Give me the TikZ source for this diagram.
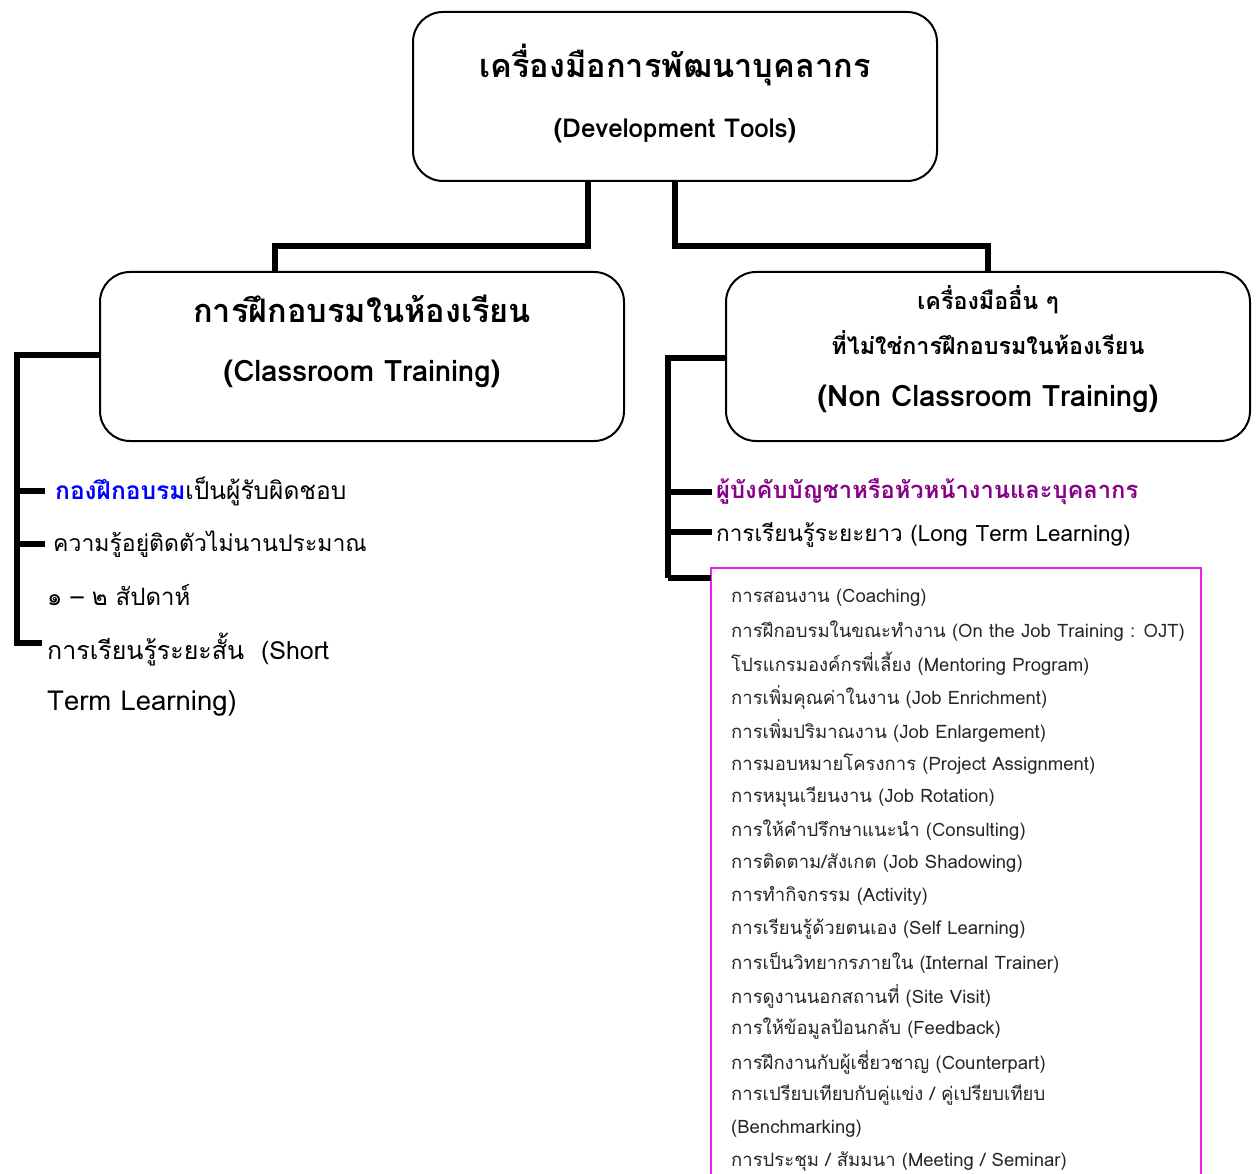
\documentclass[tikz,border=0pt]{standalone}
\usepackage{fontspec}
\setmainfont[Script=Thai]{Loma}
\newfontfamily\thaifont[Script=Thai]{Loma}
\definecolor{pblue}{RGB}{0,0,255}
\definecolor{ppurple}{RGB}{135,0,135}
\definecolor{pmag}{RGB}{240,30,240}
\newcommand{\fs}[1]{\fontsize{#1}{#1}\selectfont}
\begin{document}
\begin{tikzpicture}[x=1pt,y=-1pt,
  box/.style={draw, line width=2pt, rounded corners=30pt, minimum width=524pt, minimum height=169pt, inner sep=0pt},
  conn/.style={line width=6pt},
  ttl/.style={font=\fs{32.5}\bfseries, inner sep=0pt},
  sub/.style={font=\fs{26}\bfseries, inner sep=0pt},
  ltxt/.style={anchor=west, inner sep=0pt, font=\fs{25}},
  rtxt/.style={anchor=west, inner sep=0pt, font=\fs{22.5}},
  itm/.style={anchor=west, inner sep=0pt, font=\fs{18.5}, text=black!85}]
\useasboundingbox (0,0) rectangle (1259,1174);
\clip (0,0) rectangle (1259,1174);
% coordinates
\coordinate (a1) at (588,246);
\coordinate (a2) at (275,246);
\coordinate (b1) at (675,246);
\coordinate (b2) at (988,246);
\coordinate (l0) at (17,355);
\coordinate (lend) at (17,643);
\coordinate (r0) at (668,358);
\coordinate (rend) at (668,578);
% boxes
\node[box] (top) at (675,96.5) {};
\node[box] (left) at (362,356.5) {};
\node[box] (right) at (988,356.5) {};
% connectors
\draw[conn] (top.south -| a1) -- (a1) -- (a2) -- (left.north -| a2);
\draw[conn] (top.south -| b1) -- (b1) -- (b2) -- (right.north -| b2);
% left tree
\coordinate (lb1) at (45,491);
\coordinate (lb2) at (45,544);
\coordinate (lb3) at (42,643);
\draw[conn] (left.west |- l0) -- (l0) -- (l0 |- lb3) -- (lb3);
\draw[conn] (l0 |- lb1) -- (lb1);
\draw[conn] (l0 |- lb2) -- (lb2);
% right tree
\coordinate (rb1) at (712,492);
\coordinate (rb2) at (712,532);
\draw[conn] (right.west |- r0) -- (r0) -- (r0 |- rend) -- (rend);
\draw[conn] (r0 |- rb1) -- (rb1);
\draw[conn] (r0 |- rb2) -- (rb2);
% box texts
\node[ttl] (t1) at (675,65) {เครื่องมือการพัฒนาบุคลากร};
\node[sub] (t2) at (675,131) {(Development Tools)};
\node[ttl] (c1) at (362,309) {การฝึกอบรมในห้องเรียน};
\node[ttl, font=\fs{29.5}\bfseries] (c2) at (362,374) {(Classroom Training)};
\node[sub, font=\fs{23.3}\bfseries] (n1) at (988,300) {เครื่องมืออื่น ๆ};
\node[sub, font=\fs{23.3}\bfseries] (n2) at (988,343) {ที่ไม่ใช่การฝึกอบรมในห้องเรียน};
\node[ttl, font=\fs{29.5}\bfseries] (n3) at (988,399) {(Non Classroom Training)};
% left texts
\node[ltxt, font=\fs{24.5}] (lt1) at (55,491) {\textcolor{pblue}{\bfseries กองฝึกอบรม}เป็นผู้รับผิดชอบ};
\node[ltxt, font=\fs{23}] (lt2) at (53,544) {ความรู้อยู่ติดตัวไม่นานประมาณ};
\node[ltxt, font=\fs{24}] (lt3) at (47,595) {๑ – ๒ สัปดาห์};
\node[ltxt] (lt4) at (47,650) {การเรียนรู้ระยะสั้น\ \ (Short};
\node[ltxt, font=\fs{27.5}] (lt5) at (47,703) {Term Learning)};
% right texts
\node[rtxt, text=ppurple, font=\fs{23.7}\bfseries] (rt1) at (716,492) {ผู้บังคับบัญชาหรือหัวหน้างานและบุคลากร};
\node[rtxt] (rt2) at (716,535) {การเรียนรู้ระยะยาว (Long Term Learning)};
% magenta list box
\coordinate (mb) at (711,568);
\coordinate (mc) at (1201,568);
\draw[pmag, line width=2pt] (mb |- 0,1190) -- (mb) -- (mc) -- (mc |- 0,1190);
\draw[conn] (r0 |- rend) -- (mb |- rend);
\node[itm] (i1)  at (731,598)  {การสอนงาน (Coaching)};
\node[itm] (i2)  at (731,631)  {การฝึกอบรมในขณะทำงาน (On the Job Training : OJT)};
\node[itm] (i3)  at (731,664)  {โปรแกรมองค์กรพี่เลี้ยง (Mentoring Program)};
\node[itm] (i4)  at (731,697)  {การเพิ่มคุณค่าในงาน (Job Enrichment)};
\node[itm] (i5)  at (731,731)  {การเพิ่มปริมาณงาน (Job Enlargement)};
\node[itm] (i6)  at (731,764)  {การมอบหมายโครงการ (Project Assignment)};
\node[itm] (i7)  at (731,797)  {การหมุนเวียนงาน (Job Rotation)};
\node[itm] (i8)  at (731,830)  {การให้คำปรึกษาแนะนำ (Consulting)};
\node[itm] (i9)  at (731,863)  {การติดตาม/สังเกต (Job Shadowing)};
\node[itm] (i10) at (731,896)  {การทำกิจกรรม (Activity)};
\node[itm] (i11) at (731,929)  {การเรียนรู้ด้วยตนเอง (Self Learning)};
\node[itm] (i12) at (731,963)  {การเป็นวิทยากรภายใน (Internal Trainer)};
\node[itm] (i13) at (731,996)  {การดูงานนอกสถานที่ (Site Visit)};
\node[itm] (i14) at (731,1029) {การให้ข้อมูลป้อนกลับ (Feedback)};
\node[itm] (i15) at (731,1062) {การฝึกงานกับผู้เชี่ยวชาญ (Counterpart)};
\node[itm] (i16) at (731,1095) {การเปรียบเทียบกับคู่แข่ง / คู่เปรียบเทียบ};
\node[itm] (i17) at (731,1129) {(Benchmarking)};
\node[itm] (i18) at (731,1162) {การประชุม / สัมมนา (Meeting / Seminar)};
\end{tikzpicture}
\end{document}
